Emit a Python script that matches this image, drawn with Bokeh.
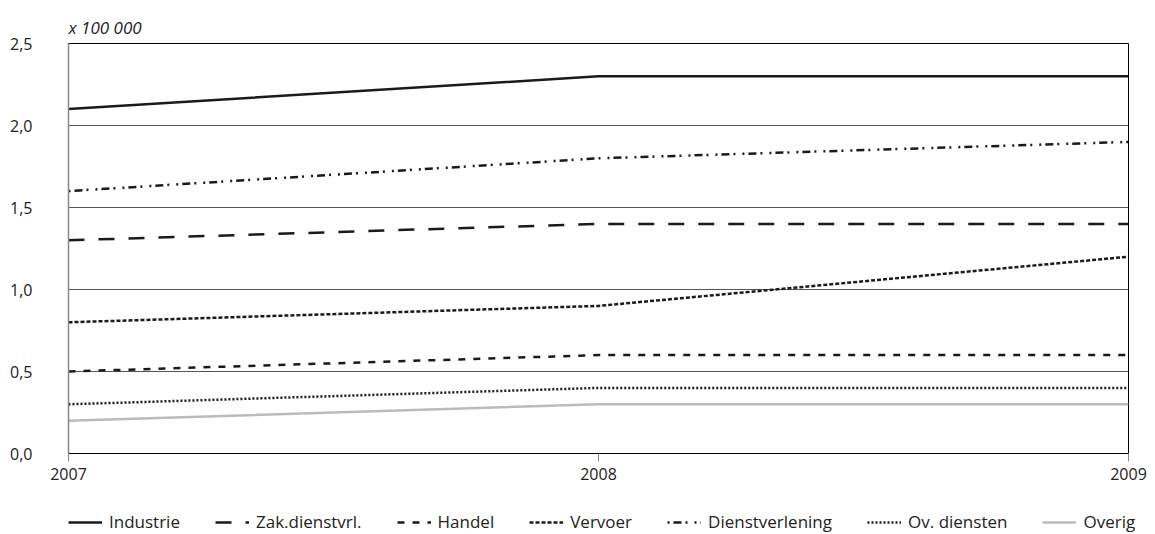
from bokeh.plotting import figure
from bokeh.models import FixedTicker, Legend, LegendItem, Title
from bokeh.layouts import column, row
from bokeh.embed import file_html
from bokeh.resources import INLINE

years = [2007, 2008, 2009]
industrie = [2.1, 2.3, 2.3]
zak_dienstvrl = [1.3, 1.4, 1.4]
handel = [0.5, 0.6, 0.6]
vervoer = [0.8, 0.9, 1.2]
dienstverlening = [1.6, 1.8, 1.9]
ov_diensten = [0.3, 0.4, 0.4]
overig = [0.2, 0.3, 0.3]

y_tick_values = [0.0, 0.5, 1.0, 1.5, 2.0, 2.5]
y_tick_labels = ["0,0", "0,5", "1,0", "1,5", "2,0", "2,5"]
x_tick_values = [2007, 2008, 2009]
x_tick_labels = ["2007", "2008", "2009"]
unit_label = "x 100 000"

FONT = "Open Sans"
TXT = "#222222"
FS = "16px"

p = figure(width=1155, height=495, output_backend="svg", toolbar_location=None,
           x_range=(2007, 2009), y_range=(0, 2.5),
           min_border_left=68, min_border_right=27, min_border_top=43, min_border_bottom=42)

p.title = Title(text=unit_label, align="left", text_font=FONT, text_font_style="italic",
                text_font_size="17px", text_color=TXT, offset=0, standoff=9)

p.outline_line_color = "black"
p.outline_line_width = 1

p.xgrid.grid_line_color = None
p.ygrid.grid_line_color = "#555555"
p.ygrid.grid_line_width = 1
p.ygrid.ticker = FixedTicker(ticks=y_tick_values)

p.yaxis.ticker = FixedTicker(ticks=y_tick_values)
p.yaxis.major_label_overrides = dict(zip(y_tick_values, y_tick_labels))
p.yaxis.axis_line_color = "#888888"
p.yaxis.axis_line_width = 1.5
p.yaxis.major_tick_line_color = None
p.yaxis.minor_tick_line_color = None
p.yaxis.major_label_standoff = 30
p.yaxis.major_label_text_font = FONT
p.yaxis.major_label_text_font_size = FS
p.yaxis.major_label_text_color = TXT

p.xaxis.ticker = FixedTicker(ticks=x_tick_values)
p.xaxis.major_label_overrides = dict(zip(x_tick_values, x_tick_labels))
p.xaxis.axis_line_color = "black"
p.xaxis.axis_line_width = 1
p.xaxis.major_tick_line_color = "#888888"
p.xaxis.major_tick_out = 8
p.xaxis.major_tick_in = 0
p.xaxis.minor_tick_line_color = None
p.xaxis.major_label_standoff = 6
p.xaxis.major_label_text_font = FONT
p.xaxis.major_label_text_font_size = FS
p.xaxis.major_label_text_color = TXT

series = [
    ("Industrie", industrie, dict(line_color="#1a1a1a", line_width=2.5, line_dash="solid")),
    ("Zak.dienstvrl.", zak_dienstvrl, dict(line_color="#1a1a1a", line_width=2.5, line_dash="16 14")),
    ("Handel", handel, dict(line_color="#1a1a1a", line_width=2.5, line_dash="7 8")),
    ("Vervoer", vervoer, dict(line_color="#1a1a1a", line_width=2.5, line_dash="4 2")),
    ("Dienstverlening", dienstverlening, dict(line_color="#1a1a1a", line_width=2.5, line_dash="2 4 8 4 2 7")),
    ("Ov. diensten", ov_diensten, dict(line_color="#1a1a1a", line_width=2.5, line_dash="2 2")),
    ("Overig", overig, dict(line_color="#bbbbbb", line_width=2.5, line_dash="solid")),
]

# legend strip as its own figure (series drawn there too, but outside its visible range)
pl = figure(width=1155, height=39, output_backend="svg", toolbar_location=None,
            x_axis_location=None, y_axis_location=None, x_range=(0, 1), y_range=(0, 1),
            min_border=0)
pl.outline_line_color = None
pl.grid.visible = False

items = []
for name, vals, style in series:
    p.line(years, vals, **style)
    r = pl.line(years, vals, **style)
    items.append(LegendItem(label=name, renderers=[r]))

legend = Legend(items=items, orientation="horizontal", location=(68, 1),
                glyph_width=34, glyph_height=20, label_standoff=7, spacing=35, padding=0, margin=0,
                border_line_color=None, background_fill_alpha=0,
                label_text_font=FONT, label_text_font_size="17px", label_text_color=TXT)
pl.add_layout(legend, "center")

layout = column(p, row(pl, spacing=0), spacing=0)
open("out.html", "w").write(file_html(layout, INLINE))
